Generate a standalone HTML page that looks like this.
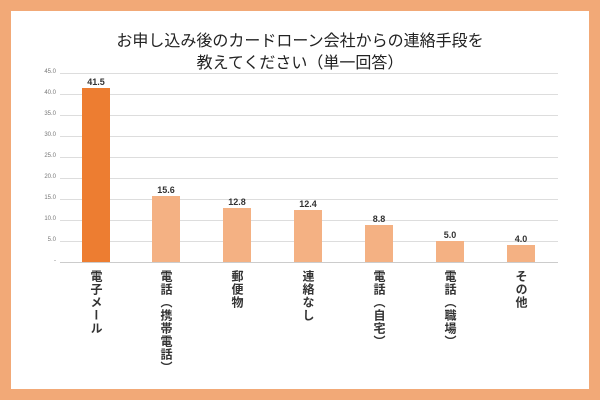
<!DOCTYPE html>
<html><head><meta charset="utf-8"><style>
body{margin:0;width:600px;height:400px;background:#F2A977;position:relative;overflow:hidden;font-family:"Liberation Sans","Noto Sans CJK JP",sans-serif}
.panel{position:absolute;left:11px;top:11px;width:578px;height:378px;background:#fff}
.t{position:absolute;left:0;width:600px;text-align:center;font-size:16px;color:#222}
.yl{position:absolute;left:28px;width:28px;text-align:right;font-size:6px;color:#777}
.g{position:absolute;left:60px;width:498px;height:1px;background:#ddd}
.b{position:absolute;width:28px;background:#F4B183}
.v{position:absolute;width:40px;text-align:center;font-size:9px;font-weight:bold;color:#333}
.c{position:absolute;top:270px;writing-mode:vertical-rl;font-size:12px;font-weight:bold;color:#333;line-height:14px;width:14px;letter-spacing:1px}
</style></head><body>
<div class="panel"></div>
<div class="t" style="top:27px">お申し込み後のカードローン会社からの連絡手段を</div>
<div class="t" style="top:49px">教えてください（単一回答）</div>
<div class="g" style="top:73px"></div><div class="yl" style="top:69px">45.0</div>
<div class="g" style="top:94px"></div><div class="yl" style="top:90px">40.0</div>
<div class="g" style="top:115px"></div><div class="yl" style="top:111px">35.0</div>
<div class="g" style="top:136px"></div><div class="yl" style="top:132px">30.0</div>
<div class="g" style="top:157px"></div><div class="yl" style="top:153px">25.0</div>
<div class="g" style="top:178px"></div><div class="yl" style="top:174px">20.0</div>
<div class="g" style="top:199px"></div><div class="yl" style="top:195px">15.0</div>
<div class="g" style="top:220px"></div><div class="yl" style="top:216px">10.0</div>
<div class="g" style="top:241px"></div><div class="yl" style="top:237px">5.0</div>
<div class="g" style="top:262px;background:#ccc"></div><div class="yl" style="top:258px">-</div>
<div class="b" style="left:82px;top:88px;height:174px;background:#ED7D31"></div><div class="v" style="left:76px;top:77px">41.5</div>
<div class="b" style="left:152px;top:196px;height:66px"></div><div class="v" style="left:146px;top:185px">15.6</div>
<div class="b" style="left:223px;top:208px;height:54px"></div><div class="v" style="left:217px;top:197px">12.8</div>
<div class="b" style="left:294px;top:210px;height:52px"></div><div class="v" style="left:288px;top:199px">12.4</div>
<div class="b" style="left:365px;top:225px;height:37px"></div><div class="v" style="left:359px;top:214px">8.8</div>
<div class="b" style="left:436px;top:241px;height:21px"></div><div class="v" style="left:430px;top:230px">5.0</div>
<div class="b" style="left:507px;top:245px;height:17px"></div><div class="v" style="left:501px;top:234px">4.0</div>
<div class="c" style="left:89px">電子メール</div>
<div class="c" style="left:159px">電話（携帯電話）</div>
<div class="c" style="left:230px">郵便物</div>
<div class="c" style="left:301px">連絡なし</div>
<div class="c" style="left:372px">電話（自宅）</div>
<div class="c" style="left:443px">電話（職場）</div>
<div class="c" style="left:514px">その他</div>
</body></html>
